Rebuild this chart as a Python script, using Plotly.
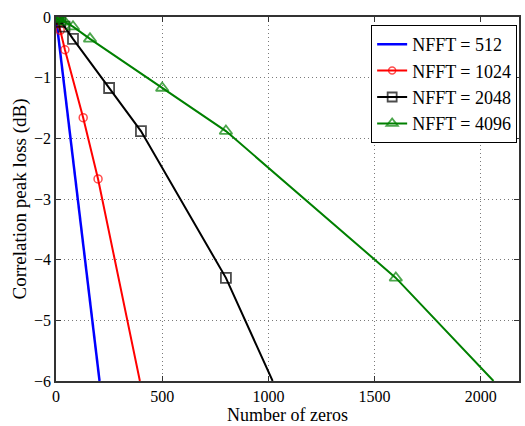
import plotly.graph_objects as go

# NFFT = 512 (line only)
x_512 = [0, 205]
y_512 = [0, -6.0]

# NFFT = 1024
x_1024 = [0, 5, 10, 20, 42, 128, 198, 395]
y_1024 = [0, -0.05, -0.10, -0.22, -0.54, -1.66, -2.67, -6.0]

# NFFT = 2048
x_2048 = [0, 5, 10, 20, 40, 80, 250, 400, 800, 1020]
y_2048 = [0, -0.02, -0.04, -0.08, -0.16, -0.36, -1.17, -1.88, -4.30, -6.0]

# NFFT = 4096
x_4096 = [0, 5, 10, 20, 40, 80, 160, 500, 800, 1600, 2060]
y_4096 = [0, -0.01, -0.02, -0.04, -0.08, -0.16, -0.36, -1.17, -1.88, -4.30, -6.0]

names = ["NFFT = 512", "NFFT = 1024", "NFFT = 2048", "NFFT = 4096"]
FONT = "Liberation Serif"

def msizes(n, s):
    return [s] * (n - 1) + [0]

fig = go.Figure()
fig.add_trace(go.Scatter(x=x_512, y=y_512, mode="lines", name=names[0],
                         line=dict(color="#0000ff", width=2.5)))
fig.add_trace(go.Scatter(x=x_1024, y=y_1024, mode="lines+markers", name=names[1],
                         line=dict(color="#ff0000", width=2),
                         marker=dict(symbol="circle-open", size=msizes(len(x_1024), 8),
                                     color="#ff0000", line=dict(width=1.5))))
fig.add_trace(go.Scatter(x=x_2048, y=y_2048, mode="lines+markers", name=names[2],
                         line=dict(color="#000000", width=2),
                         marker=dict(symbol="square-open", size=msizes(len(x_2048), 10),
                                     color="#000000", line=dict(width=1.8))))
fig.add_trace(go.Scatter(x=x_4096, y=y_4096, mode="lines+markers", name=names[3],
                         line=dict(color="#008000", width=2),
                         marker=dict(symbol="triangle-up-open", size=msizes(len(x_4096), 11),
                                     color="#008000", line=dict(width=1.8))))

axis_common = dict(
    showgrid=True, gridcolor="#7a7a7a", griddash="1px,3px", gridwidth=1,
    zeroline=False, showline=True, linecolor="#333333", linewidth=1.5,
    mirror="ticks", ticks="inside", ticklen=5, tickcolor="#333333",
    tickfont=dict(family=FONT, size=16, color="black"),
)

fig.update_layout(
    width=525, height=426,
    margin=dict(l=56, r=4, t=17, b=45),
    plot_bgcolor="white", paper_bgcolor="white",
    font=dict(family=FONT, size=16, color="black"),
    xaxis=dict(range=[0, 2180], tickvals=[0, 500, 1000, 1500, 2000],
               title=dict(text="Number of zeros", font=dict(family=FONT, size=18), standoff=3),
               **axis_common),
    yaxis=dict(range=[-6, 0], tickvals=[0, -1, -2, -3, -4, -5, -6],
               title=dict(text="Correlation peak loss (dB)", font=dict(family=FONT, size=19), standoff=2),
               **axis_common),
    legend=dict(x=0.996, y=0.978, xanchor="right", yanchor="top",
                bgcolor="white", bordercolor="black", borderwidth=1,
                font=dict(family=FONT, size=18), tracegroupgap=0),
    showlegend=True,
)

fig.write_html("out.html", config={"displayModeBar": False},
               post_script="document.body.style.margin='0px';document.body.style.overflow='hidden';")
